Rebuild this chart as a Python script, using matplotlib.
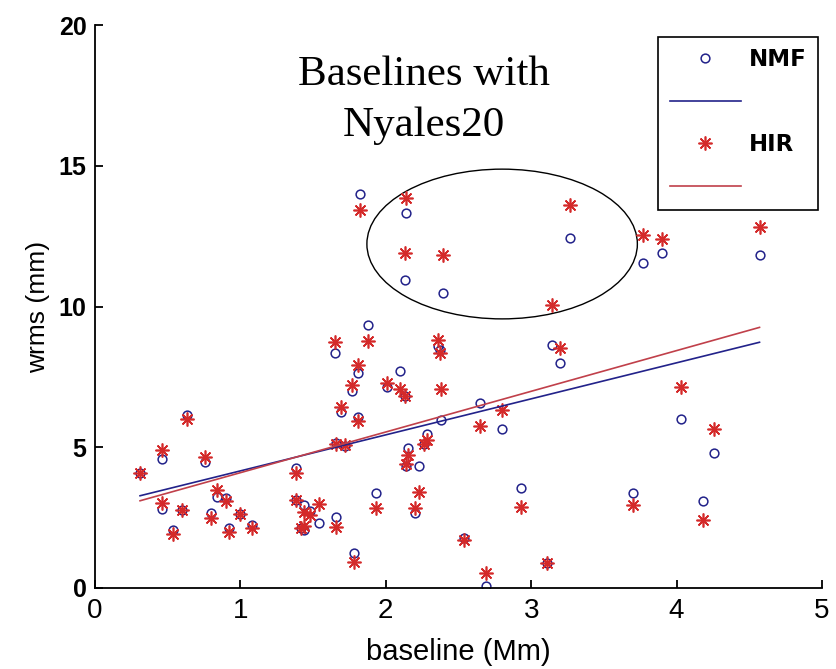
import matplotlib
matplotlib.use("Agg")
import matplotlib.pyplot as plt
import numpy as np
from matplotlib.lines import Line2D
from matplotlib.patches import Ellipse

# baseline length (Mm) and wrms (mm) for the two solutions
baseline = [0.63, 0.46, 0.76, 0.31, 0.46, 0.60, 0.54, 0.84, 0.90, 0.80,
            1.00, 0.92, 1.08, 1.88, 1.65, 2.36, 2.37, 1.81, 1.77, 2.10,
            2.01, 2.13, 2.38, 1.69, 1.81, 2.65, 1.66, 1.72, 2.28, 2.26,
            2.15, 2.14, 2.23, 1.38, 1.93, 2.20, 1.38, 1.44, 1.48, 1.42,
            1.44, 1.54, 1.66, 1.78, 2.54, 2.69, 3.14, 3.20, 2.80, 2.93,
            3.70, 3.11, 4.03, 4.26, 4.18, 1.82, 2.14, 2.13, 2.39, 3.27,
            3.77, 3.90, 4.57]
nmf = [6.15, 4.60, 4.49, 4.07, 2.80, 2.77, 2.06, 3.24, 3.19, 2.65,
       2.63, 2.12, 2.24, 9.34, 8.34, 8.60, 8.45, 7.65, 7.01, 7.72,
       7.13, 6.82, 5.97, 6.26, 6.09, 6.56, 5.14, 5.05, 5.47, 5.12,
       4.96, 4.35, 4.35, 4.25, 3.39, 2.65, 3.13, 2.95, 2.75, 2.12,
       2.05, 2.32, 2.51, 1.23, 1.76, 0.07, 8.63, 7.98, 5.64, 3.54,
       3.39, 0.88, 6.00, 4.81, 3.09, 14.00, 13.33, 10.94, 10.49, 12.42,
       11.53, 11.89, 11.83]
hir = [6.00, 4.90, 4.66, 4.07, 3.03, 2.77, 1.92, 3.48, 3.10, 2.48,
       2.63, 2.00, 2.12, 8.79, 8.75, 8.80, 8.35, 7.92, 7.21, 7.06,
       7.29, 6.82, 7.06, 6.42, 5.94, 5.75, 5.10, 5.08, 5.25, 5.12,
       4.72, 4.42, 3.42, 4.07, 2.83, 2.83, 3.13, 2.70, 2.59, 2.12,
       2.20, 2.98, 2.18, 0.94, 1.72, 0.54, 10.05, 8.54, 6.32, 2.89,
       2.95, 0.88, 7.13, 5.64, 2.42, 13.43, 13.84, 11.89, 11.83, 13.60,
       12.54, 12.39, 12.84]

# linear fits (slope, intercept) as drawn in the original
nmf_fit = [1.28, 2.88]
hir_fit = [1.446, 2.65]

# highlighted group of baselines (centre x, centre y, width, height)
ellipse_box = [2.80, 12.22, 1.86, 5.32]

NAVY = "#22228a"
RED = "#d42a2a"
RED_LINE = "#c0404a"
ASTERISK = (8, 2, 0)

plt.rcParams["font.family"] = ["Liberation Sans", "DejaVu Sans"]

fig = plt.figure(figsize=(8.36, 6.69), dpi=100)
ax = fig.add_axes([0.1136, 0.1211, 0.8697, 0.8415])

ax.plot(baseline, nmf, "o", ms=6.3, mfc="none", mec=NAVY, mew=1.1, ls="none")
ax.plot(baseline, hir, marker=ASTERISK, ms=10, mec=RED, mew=1.2, ls="none")

xs = np.array([min(baseline), max(baseline)])
ax.plot(xs, np.polyval(nmf_fit, xs), color=NAVY, lw=1.2)
ax.plot(xs, np.polyval(hir_fit, xs), color=RED_LINE, lw=1.2)

cx, cy, w, h = ellipse_box
ax.add_patch(Ellipse((cx, cy), w, h, fill=False, ec="black", lw=1.0))

ax.text(2.26, 16.05, "Baselines with\nNyales20", ha="center", va="baseline",
        fontsize=31, family="Liberation Serif", linespacing=1.42)

ax.set_xlim(0, 5)
ax.set_ylim(0, 20)
ax.set_xticks(range(0, 6))
ax.set_yticks(range(0, 21, 5))
ax.spines["top"].set_visible(False)
ax.spines["right"].set_visible(False)
for s in ("left", "bottom"):
    ax.spines[s].set_linewidth(1.3)
ax.tick_params(direction="in", length=6, width=1.3)
ax.tick_params(axis="x", labelsize=20, pad=7)
ax.tick_params(axis="y", labelsize=18, pad=6)
for lbl in ax.get_yticklabels():
    lbl.set_fontweight("bold")

ax.set_xlabel("baseline (Mm)", fontsize=21, labelpad=10)
ax.set_ylabel("wrms (mm)", fontsize=19, labelpad=6)

handles = [
    Line2D([], [], marker="o", ms=6.3, mfc="none", mec=NAVY, mew=1.1, ls="none"),
    Line2D([], [], color=NAVY, lw=1.2),
    Line2D([], [], marker=ASTERISK, ms=10, mec=RED, mew=1.2, ls="none"),
    Line2D([], [], color=RED_LINE, lw=1.2),
]
leg = ax.legend(handles, ["NMF", "", "HIR", ""], loc="upper right",
                bbox_to_anchor=(818 / 836, 1 - 37 / 669),
                bbox_transform=fig.transFigure, borderaxespad=0,
                prop={"family": "DejaVu Sans", "weight": "bold", "size": 16.5},
                handlelength=3.1, handletextpad=0.35,
                labelspacing=0.85, borderpad=0.5, fancybox=False,
                framealpha=1, edgecolor="black")
leg.get_frame().set_linewidth(1.2)

fig.savefig("out.png", dpi=100)
